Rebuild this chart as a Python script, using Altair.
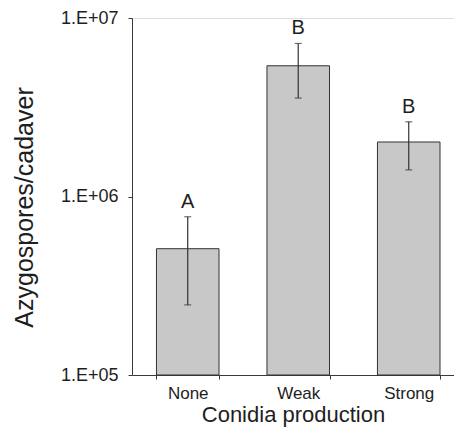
import altair as alt
import pandas as pd

categories = ["None", "Weak", "Strong"]
means = [5.1e5, 5.4e6, 2.02e6]
err_low = [2.47e5, 3.56e6, 1.41e6]
err_high = [7.7e5, 7.2e6, 2.62e6]
letters = ["A", "B", "B"]

y_ticks = [1e5, 1e6, 1e7]
y_tick_labels = ["1.E+05", "1.E+06", "1.E+07"]

df = pd.DataFrame({
    "cat": categories,
    "mean": means,
    "lo": err_low,
    "hi": err_high,
    "letter": letters,
})

label_expr = " : ".join(
    [f"datum.value == {v:.0f} ? '{l}'" for v, l in zip(y_ticks, y_tick_labels)]
) + " : ''"

FONT = "Liberation Sans"
AX = "#3a3a3a"
TXT = "#1e1e1e"

x_scale = alt.Scale(paddingInner=0.434, paddingOuter=0.174, align=0.636)
y_scale = alt.Scale(type="log", domain=[1e5, 1e7])

x_enc = alt.X(
    "cat:N",
    sort=categories,
    title="Conidia production",
    scale=x_scale,
    axis=alt.Axis(
        labelAngle=0,
        labelFontSize=17,
        labelFont=FONT,
        labelColor=TXT,
        labelPadding=6,
        tickBand="extent",
        tickSize=4,
        tickColor=AX,
        domainColor=AX,
        titleFont=FONT,
        titleFontSize=22,
        titleFontWeight="normal",
        titleColor=TXT,
        titlePadding=3,
        grid=False,
    ),
)

base = alt.Chart(df)

bars = base.mark_bar(color="#c8c8c8", stroke="#333333", strokeWidth=1).encode(
    x=x_enc,
    y=alt.Y(
        "mean:Q",
        scale=y_scale,
        title="Azygospores/cadaver",
        axis=alt.Axis(
            values=y_ticks,
            labelExpr=label_expr,
            labelFontSize=18,
            labelFont=FONT,
            labelColor=TXT,
            labelPadding=10,
            tickSize=4,
            tickColor=AX,
            domainColor=AX,
            titleFont=FONT,
            titleFontSize=25,
            titleFontWeight="normal",
            titleColor=TXT,
            titlePadding=23,
            titleY=189,
            grid=False,
        ),
    ),
    y2=alt.datum(1e5),
)

rules = base.mark_rule(color="#333333", strokeWidth=1.2).encode(
    x=alt.X("cat:N", sort=categories, scale=x_scale),
    y=alt.Y("lo:Q", scale=y_scale),
    y2="hi:Q",
)

caps_hi = base.mark_tick(color="#333333", size=7, thickness=1.2).encode(
    x=alt.X("cat:N", sort=categories, scale=x_scale),
    y=alt.Y("hi:Q", scale=y_scale),
)
caps_lo = base.mark_tick(color="#333333", size=7, thickness=1.2).encode(
    x=alt.X("cat:N", sort=categories, scale=x_scale),
    y=alt.Y("lo:Q", scale=y_scale),
)

text = base.mark_text(
    font=FONT, fontSize=20, color=TXT, baseline="alphabetic", dy=-9
).encode(
    x=alt.X("cat:N", sort=categories, scale=x_scale),
    y=alt.Y("hi:Q", scale=y_scale),
    text="letter:N",
)

chart = (
    alt.layer(bars, rules, caps_hi, caps_lo, text)
    .properties(
        width=322,
        height=357,
        autosize=alt.AutoSizeParams(type="none"),
        padding={"left": 124, "top": 10, "right": 0, "bottom": 53},
    )
    .configure_view(stroke=None)
    .configure(background="white")
)

chart.save("out.html", embed_options={"renderer": "svg", "actions": False})
